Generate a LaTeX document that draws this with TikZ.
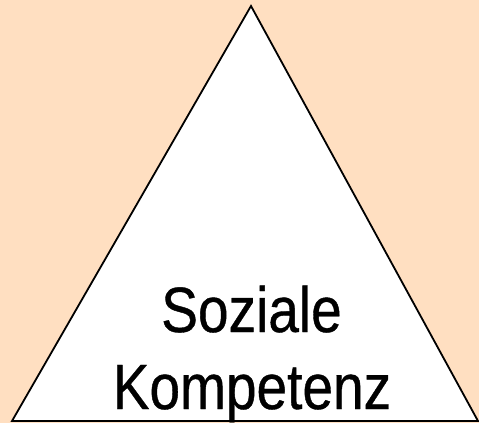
\documentclass[tikz,border=0pt]{standalone}
\usepackage{fontspec}
\setmainfont{Liberation Sans}
\newfontfamily\narrowfont[FakeStretch=0.86,FakeBold=0.6]{Liberation Sans}
\definecolor{peach}{HTML}{FFDFC1}
\begin{document}
\begin{tikzpicture}[x=1pt,y=-1pt,
  tri/.style={draw=black,fill=white,line width=1.8pt,line join=miter},
  lbl/.style={anchor=base,inner sep=0pt,font=\narrowfont\fontsize{64}{70}\selectfont}]
\useasboundingbox (0,0) rectangle (479,423);
\fill[peach] (0,0) rectangle (479,423);
\coordinate (apex) at (251,6);
\coordinate (bl) at (12,421);
\coordinate (br) at (478,421);
\draw[tri] (apex) -- (br) -- (bl) -- cycle;
\node[lbl] (s) at (251.5,332) {Soziale};
\node[lbl] (k) at (252,409) {Kompetenz};
\end{tikzpicture}
\end{document}
